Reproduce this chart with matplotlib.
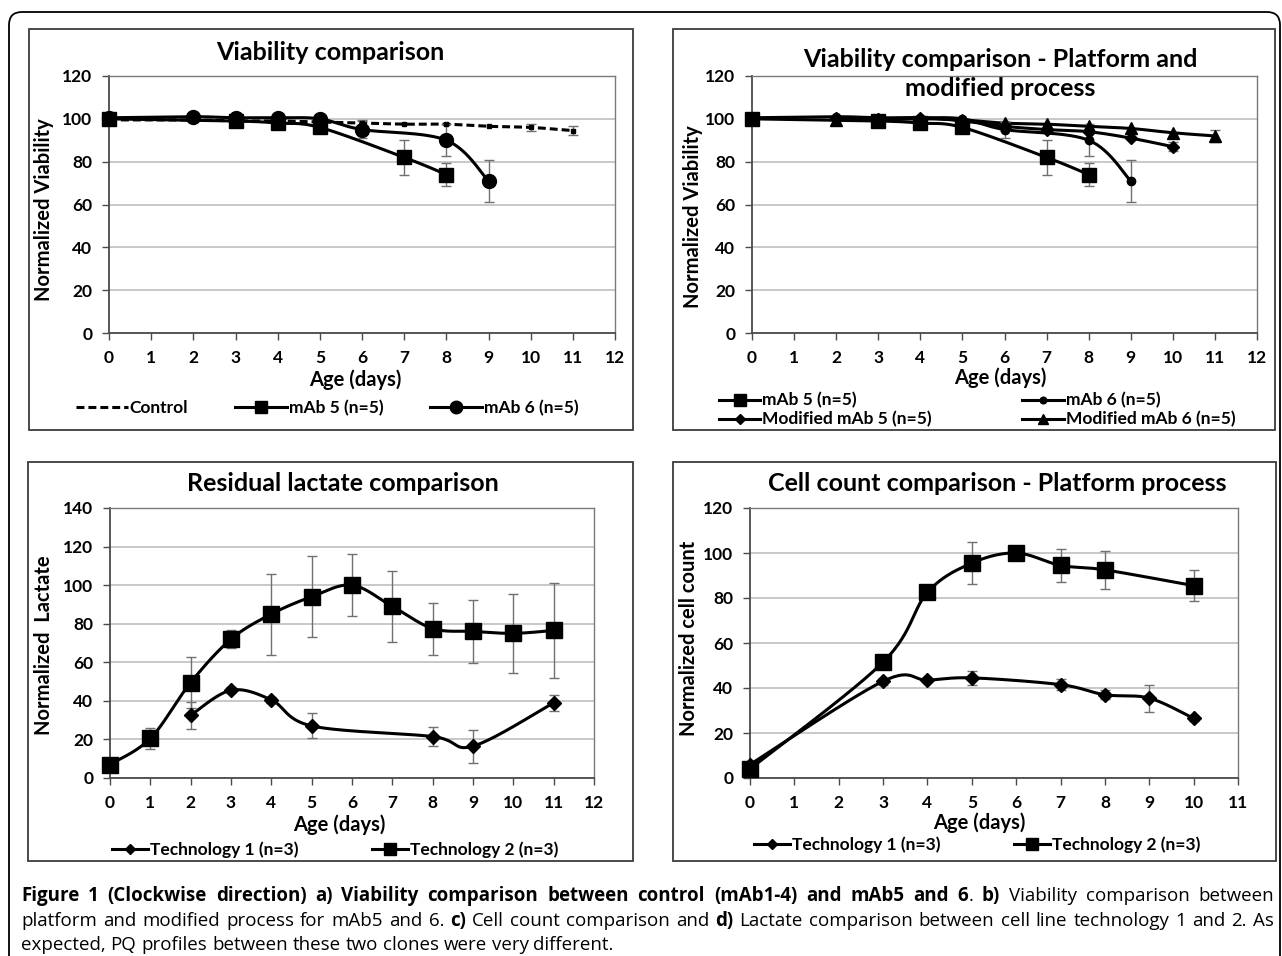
import numpy as np
import matplotlib
matplotlib.use("Agg")
import matplotlib.pyplot as plt
from matplotlib.lines import Line2D
from matplotlib.patches import FancyBboxPatch, Rectangle
from matplotlib.transforms import IdentityTransform

W, H = 1282, 956

# ---- a) viability: control vs mAb 5 / mAb 6 ----
ctrl_days = [0, 2, 3, 4, 5, 6, 7, 8, 9, 10, 11]
ctrl_via = [99.5, 99.5, 99, 99, 98.5, 98, 97.5, 97.5, 96.5, 96, 94.5]
ctrl_err = [0, 0, 0, 0, 0, 1.5, 0, 0, 0, 1.5, 2.2]

mab5_days = [0, 3, 4, 5, 7, 8]
mab5_via = [100, 99, 98, 96, 82, 74]
mab5_err = [0, 0, 0, 0, 8.2, 5.3]

mab6_days = [0, 2, 3, 4, 5, 6, 8, 9]
mab6_via = [100.5, 101, 100.5, 100.5, 100, 95, 90, 71]
mab6_err = [0, 0, 0, 0, 0, 4, 7.5, 10]

# ---- b) viability: platform vs modified process ----
mod5_days = [2, 3, 4, 5, 6, 7, 8, 9, 10]
mod5_via = [100.5, 100, 100.5, 99, 96.5, 95, 94, 91, 87]
mod5_err = [0, 0, 0, 0, 2, 0, 0, 0, 2]

mod6_days = [2, 3, 4, 5, 6, 7, 8, 9, 10, 11]
mod6_via = [99.5, 99.5, 100, 99.5, 98, 97.5, 96.5, 95.5, 93.5, 92]
mod6_err = [0, 0, 0, 0, 0, 0, 0, 0, 0, 3]

# ---- c) residual lactate ----
lac2_days = [0, 1, 2, 3, 4, 5, 6, 7, 8, 9, 10, 11]
lac2_val = [7, 20.5, 49.5, 72, 85, 94, 100, 89, 77.5, 76, 75, 76.5]
lac2_err = [0, 5.5, 13, 4.5, 21, 21, 16, 18.5, 13.5, 16.5, 20.5, 24.5]

lac1_days = [2, 3, 4, 5, 8, 9, 11]
lac1_val = [32.5, 45.5, 40.5, 27, 21.5, 16.5, 39]
lac1_err = [7, 1.5, 1.5, 6.5, 5, 8.5, 4]

# ---- d) cell count ----
cc2_days = [0, 3, 4, 5, 6, 7, 8, 10]
cc2_val = [4, 51.5, 82.5, 95.5, 100, 94.5, 92.5, 85.5]
cc2_err = [0, 0, 0, 9.2, 0, 7.3, 8.5, 7]

cc1_days = [0, 3, 4, 5, 7, 8, 9, 10]
cc1_val = [6, 43, 43.5, 44.5, 41.5, 37, 35.5, 26.5]
cc1_err = [0, 1.5, 1, 3, 2.5, 2, 6, 1]

plt.rcParams["font.family"] = ["Lato", "DejaVu Sans"]
plt.rcParams["font.weight"] = "bold"

fig = plt.figure(figsize=(W / 100, H / 100), dpi=100)


def smooth_curve(x, y, n=30):
    # Excel-like smoothed line (Catmull-Rom as cubic bezier)
    pts = np.column_stack([x, y]).astype(float)
    out = [pts[0]]
    t = np.linspace(0, 1, n)[1:, None]
    for i in range(len(pts) - 1):
        p0 = pts[i - 1] if i > 0 else pts[i]
        p1, p2 = pts[i], pts[i + 1]
        p3 = pts[i + 2] if i + 2 < len(pts) else pts[i + 1]
        c1 = p1 + (p2 - p0) / 6
        c2 = p2 - (p3 - p1) / 6
        seg = (1 - t) ** 3 * p1 + 3 * (1 - t) ** 2 * t * c1 + 3 * (1 - t) * t ** 2 * c2 + t ** 3 * p2
        out.extend(seg)
    return np.array(out)


def px_axes(x0, x1, ytop, ybot):
    return fig.add_axes([x0 / W, 1 - ybot / H, (x1 - x0) / W, (ybot - ytop) / H])


def style_axes(ax, xmax, ymax, ystep):
    ax.set_xlim(0, xmax)
    ax.set_ylim(0, ymax)
    ax.set_xticks(range(xmax + 1))
    ax.set_yticks(range(0, ymax + 1, ystep))
    ax.yaxis.grid(True, color="#c4c4c4", lw=1.3)
    ax.set_axisbelow(True)
    for s in ["top", "right"]:
        ax.spines[s].set_color("#7a7a7a")
        ax.spines[s].set_linewidth(1.0)
    for s in ["left", "bottom"]:
        ax.spines[s].set_color("#4a4a4a")
        ax.spines[s].set_linewidth(1.3)
    ax.tick_params(direction="out", length=5, width=1, color="#4a4a4a",
                   labelsize=12.5, pad=7)


def draw_series(ax, x, y, err, marker, ms, ls="-"):
    c = smooth_curve(x, y)
    ax.plot(c[:, 0], c[:, 1], color="k", lw=2.2, ls=ls, zorder=3,
            solid_capstyle="butt")
    x, y, err = np.array(x), np.array(y), np.array(err)
    m = err > 0
    if m.any():
        ax.errorbar(x[m], y[m], yerr=err[m], fmt="none", ecolor="#707070",
                    elinewidth=1, capsize=3.5, capthick=1, zorder=4)
    ax.plot(x, y, ls="none", marker=marker, ms=ms, color="k", zorder=5,
            clip_on=False)
    return Line2D([], [], color="k", lw=2.2, ls=ls, marker=marker, ms=ms)


def px_text(x, y, s, **kw):
    return fig.text(x / W, 1 - y / H, s, **kw)


dash = (0, (2.6, 1.3))
leg_kw = dict(loc="center", bbox_transform=fig.transFigure, frameon=False,
              fontsize=12.5, handletextpad=0.1)

# a) top-left
axa = px_axes(109, 615, 76, 333)
style_axes(axa, 12, 120, 20)
draw_series(axa, ctrl_days, ctrl_via, ctrl_err, "s", 3, ls=dash)
hb = draw_series(axa, mab5_days, mab5_via, mab5_err, "s", 10)
hc = draw_series(axa, mab6_days, mab6_via, mab6_err, "o", 10)
axa.legend([Line2D([], [], color="k", lw=2.2, ls=dash), hb, hc],
           ["Control", "mAb 5 (n=5)", "mAb 6 (n=5)"],
           bbox_to_anchor=(327 / W, 1 - 408 / H), ncol=3, handlelength=3.0,
           columnspacing=2.7, markerscale=0.9, **leg_kw)

# b) top-right
axb = px_axes(752, 1257, 76, 333)
style_axes(axb, 12, 120, 20)
h5 = draw_series(axb, mab5_days, mab5_via, mab5_err, "s", 10)
h6 = draw_series(axb, mab6_days, mab6_via, mab6_err, "o", 6)
hm5 = draw_series(axb, mod5_days, mod5_via, mod5_err, "D", 6.5)
hm6 = draw_series(axb, mod6_days, mod6_via, mod6_err, "^", 9)
axb.legend([h5, hm5, h6, hm6],
           ["mAb 5 (n=5)", "Modified mAb 5 (n=5)", "mAb 6 (n=5)", "Modified mAb 6 (n=5)"],
           bbox_to_anchor=(977 / W, 1 - 410 / H), ncol=2, handlelength=2.4,
           columnspacing=5.2, labelspacing=0.15, markerscale=0.8, **leg_kw)

# c) bottom-left
axc = px_axes(110, 594, 508, 778)
style_axes(axc, 12, 140, 20)
ht1 = draw_series(axc, lac1_days, lac1_val, lac1_err, "D", 7)
ht2 = draw_series(axc, lac2_days, lac2_val, lac2_err, "s", 11)
axc.legend([ht1, ht2], ["Technology 1 (n=3)", "Technology 2 (n=3)"],
           bbox_to_anchor=(335 / W, 1 - 850 / H), ncol=2, handlelength=2.1,
           columnspacing=4.2, markerscale=0.75, **leg_kw)

# d) bottom-right
axd = px_axes(750, 1238, 508, 778)
style_axes(axd, 11, 120, 20)
hd2 = draw_series(axd, cc2_days, cc2_val, cc2_err, "s", 11)
hd1 = draw_series(axd, cc1_days, cc1_val, cc1_err, "D", 7)
axd.legend([hd1, hd2], ["Technology 1 (n=3)", "Technology 2 (n=3)"],
           bbox_to_anchor=(977 / W, 1 - 845 / H), ncol=2, handlelength=2.1,
           columnspacing=4.2, markerscale=0.75, **leg_kw)

# titles and axis labels
tkw = dict(ha="center", va="center", fontsize=18, fontweight="bold")
px_text(330, 52, "Viability comparison", **tkw)
px_text(1000, 74, "Viability comparison - Platform and\nmodified process",
        linespacing=1.3, **tkw)
px_text(343, 483, "Residual lactate comparison", **tkw)
px_text(997, 483, "Cell count comparison - Platform process", **tkw)

lkw = dict(ha="center", va="center", fontsize=14.5, fontweight="bold")
px_text(355, 380, "Age (days)", **lkw)
px_text(1000, 378, "Age (days)", **lkw)
px_text(339, 825, "Age (days)", **lkw)
px_text(979, 823, "Age (days)", **lkw)
px_text(44, 210, "Normalized Viability", rotation=90, **lkw)
px_text(693, 217, "Normalized Viability", rotation=90, **lkw)
px_text(44, 645, "Normalized  Lactate", rotation=90, **lkw)
px_text(689, 638, "Normalized cell count", rotation=90, **lkw)

# frames
fig.add_artist(FancyBboxPatch((9, -30), 1271, H - 12 + 30,
                              boxstyle="round,pad=0,rounding_size=13",
                              transform=IdentityTransform(), fill=False,
                              ec="black", lw=1.3))
for x0, x1, y0, y1 in [(29, 633, 29, 430), (673, 1275, 29, 430),
                       (28, 633, 462, 861), (673, 1276, 462, 861)]:
    fig.add_artist(Rectangle((x0, H - y1), x1 - x0, y1 - y0,
                             transform=IdentityTransform(), fill=False,
                             ec="#3c3c3c", lw=1.3))

# caption, justified, with bold pieces
caption = [
    [("Figure 1 (Clockwise direction) a) Viability comparison between control (mAb1-4) and mAb5 and 6", True),
     (". ", False), ("b)", True), (" Viability comparison between", False)],
    [("platform and modified process for mAb5 and 6. ", False), ("c)", True),
     (" Cell count comparison and ", False), ("d)", True),
     (" Lactate comparison between cell line technology 1 and 2. As", False)],
    [("expected, PQ profiles between these two clones were very different.", False)],
]
cap_base = [901, 926, 950]
cap_family = ["Open Sans", "DejaVu Sans"]
cap_size = 13.5

renderer = fig.canvas.get_renderer()


def to_words(segs):
    words = [[]]
    for text, bold in segs:
        parts = text.split(" ")
        for k, p in enumerate(parts):
            if k > 0:
                words.append([])
            if p:
                words[-1].append((p, bold))
    return [w for w in words if w]


def piece_width(s, bold):
    t = fig.text(0, 0, s, fontsize=cap_size, family=cap_family,
                 fontweight="bold" if bold else "normal")
    w = t.get_window_extent(renderer).width
    t.remove()
    return w


space_w = piece_width("a a", False) - piece_width("aa", False)
x_left, x_right = 21, 1274
for li, segs in enumerate(caption):
    words = to_words(segs)
    widths = [[piece_width(p, b) for p, b in w] for w in words]
    total = sum(sum(w) for w in widths)
    gap = space_w
    if li < len(caption) - 1:
        gap = max(space_w * 0.7, (x_right - x_left - total) / (len(words) - 1))
    x = x_left
    for w, ws in zip(words, widths):
        for (p, b), pw in zip(w, ws):
            px_text(x, cap_base[li], p, fontsize=cap_size, family=cap_family,
                    fontweight="bold" if b else "normal", va="baseline", ha="left")
            x += pw
        x += gap

fig.savefig("out.png", dpi=100)
